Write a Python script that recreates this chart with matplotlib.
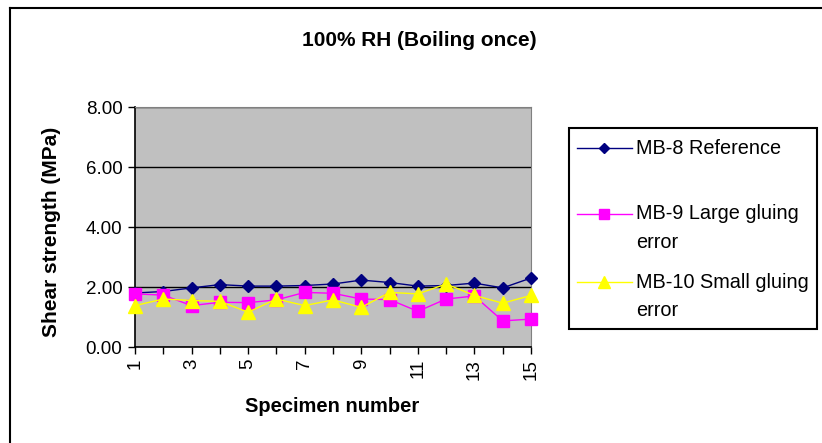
import matplotlib
matplotlib.use("Agg")
import matplotlib.pyplot as plt
from matplotlib.patches import Rectangle
from matplotlib.lines import Line2D

plt.rcParams['font.family'] = ['Liberation Sans', 'DejaVu Sans']

specimens = list(range(1, 16))
mb8 = [1.80, 1.85, 1.97, 2.08, 2.03, 2.03, 2.05, 2.10, 2.23, 2.15, 2.03, 2.05, 2.13, 1.97, 2.30]
mb9 = [1.77, 1.73, 1.38, 1.49, 1.48, 1.57, 1.82, 1.79, 1.60, 1.58, 1.19, 1.60, 1.70, 0.87, 0.93]
mb10 = [1.38, 1.60, 1.55, 1.52, 1.16, 1.60, 1.38, 1.57, 1.32, 1.82, 1.77, 2.10, 1.72, 1.46, 1.72]
labels = ["MB-8 Reference", "MB-9 Large gluing\nerror", "MB-10 Small gluing\nerror"]
yticks = [0, 2, 4, 6, 8]

colors = ['#000080', '#ff00ff', '#ffff00']
markers = ['D', 's', '^']
msizes = [6.5, 9, 10]

W, H = 822, 443
fig = plt.figure(figsize=(W/100, H/100), dpi=100)
ax = fig.add_axes([135/W, 1-347/H, (531-135)/W, (347-107)/H])
ax.set_facecolor('#c0c0c0')

for data, c, m, ms, lab in zip([mb8, mb9, mb10], colors, markers, msizes, labels):
    ax.plot(specimens, data, color=c, marker=m, markersize=ms, lw=1, label=lab, zorder=3,
            clip_on=False)

ax.set_xlim(1, 15)
ax.set_ylim(0, 8)
ax.set_yticks(yticks)
ax.set_yticklabels([f"{v:.2f}" for v in yticks], fontsize=13.5)
ax.yaxis.grid(True, color='black', lw=1)
ax.set_axisbelow(True)
ax.set_xticks(specimens)
ax.set_xticklabels([str(s) if s % 2 == 1 else '' for s in specimens], rotation=90, fontsize=13.5)
ax.tick_params(axis='both', direction='out', length=5, color='black', width=1)
ax.tick_params(axis='y', pad=4)
for s in ['left', 'bottom']:
    ax.spines[s].set_color('black')
    ax.spines[s].set_linewidth(1.2)
for s in ['top', 'right']:
    ax.spines[s].set_color('#808080')

ax.set_ylabel("Shear strength (MPa)", fontsize=15, fontweight='bold')
ax.set_xlabel("Specimen number", fontsize=14.5, fontweight='bold')
ax.yaxis.set_label_coords((52 - 135)/(531-135), (347-232)/240)
ax.xaxis.set_label_coords((332-135)/396, -(407-347)/240)
ax.xaxis.label.set_va('center')
ax.yaxis.label.set_va('center')

fig.text(419/W, 1-40/H, "100% RH (Boiling once)", ha='center', va='center', fontsize=15, fontweight='bold')

# legend box
fig.patches.append(Rectangle((569/W, 1-329/H), (817-569)/W, (329-128)/H, transform=fig.transFigure,
                             fill=True, facecolor='white', edgecolor='black', lw=1.5))
leg_y = [148, 214, 282]
for lab, c, m, ms, y in zip(labels, colors, markers, msizes, leg_y):
    fig.lines.append(Line2D([577/W, 632/W], [1-y/H, 1-y/H], transform=fig.transFigure,
                            color=c, lw=1))
    fig.lines.append(Line2D([604/W], [1-y/H], transform=fig.transFigure, color=c,
                            marker=m, markersize=ms * 0.85, lw=0))
    for i, line in enumerate(lab.split('\n')):
        fig.text(636/W, 1-(y + i*28)/H, line, ha='left', va='center', fontsize=14.3)

# outer chart border (top and left visible)
fig.lines.append(Line2D([10/W, 10/W], [0, 1-8/H], transform=fig.transFigure, color='black', lw=1.5))
fig.lines.append(Line2D([10/W, 1], [1-8/H, 1-8/H], transform=fig.transFigure, color='black', lw=1.5))

fig.savefig("out.png", dpi=100)
